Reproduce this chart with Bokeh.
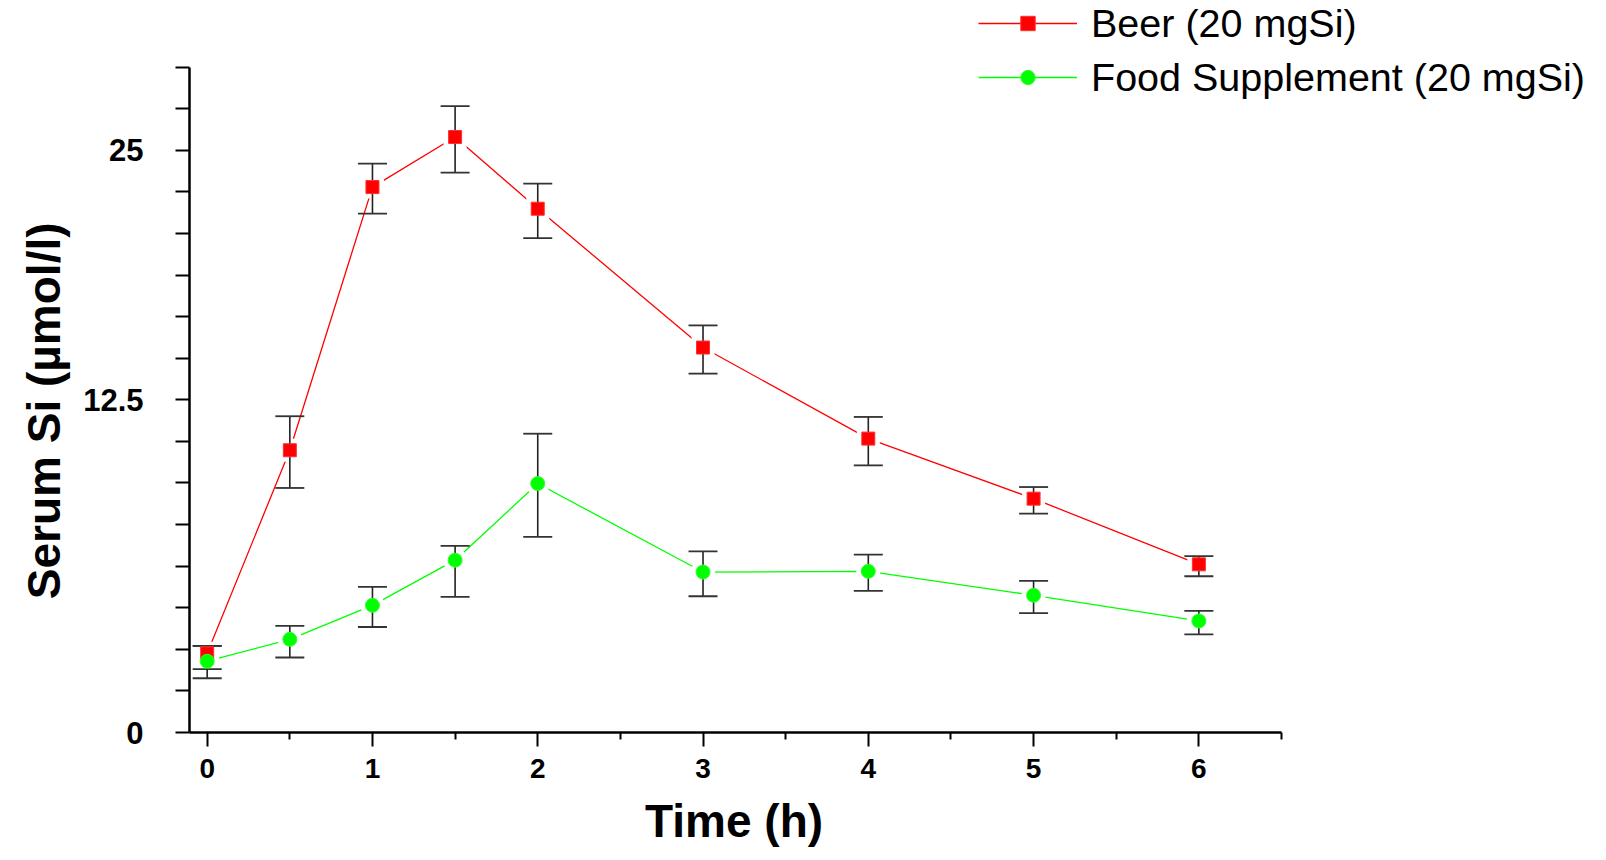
from bokeh.plotting import figure
from bokeh.models import (FixedTicker, CustomJSTickFormatter, Range1d, Title,
                          Legend, LegendItem, ColumnDataSource)
from bokeh.embed import file_html
from bokeh.resources import INLINE

# ---- data ----
time_h = [0, 0.5, 1, 1.5, 2, 3, 4, 5, 6]
beer = [3.40, 12.12, 23.42, 25.57, 22.49, 16.53, 12.62, 10.04, 7.22]
beer_upper = [3.72, 13.58, 24.43, 26.90, 23.57, 17.48, 13.55, 10.54, 7.57]
beer_lower = [2.72, 10.50, 22.28, 24.04, 21.23, 15.41, 11.47, 9.40, 6.71]
food = [3.06, 4.00, 5.46, 7.40, 10.69, 6.89, 6.92, 5.89, 4.79]
food_upper = [3.72, 4.58, 6.25, 8.01, 12.83, 7.78, 7.64, 6.51, 5.22]
food_lower = [2.33, 3.22, 4.53, 5.82, 8.40, 5.85, 6.08, 5.13, 4.21]

x_ticks = [0, 1, 2, 3, 4, 5, 6]
x_minor_ticks = [0.5, 1.5, 2.5, 3.5, 4.5, 5.5, 6.5]
x_axis_bounds = (-0.107, 6.5)
y_step = 25 / 14
y_tick_count = 17
y_label_index = [0, 8, 14]
y_label_text = ["0", "12.5", "25"]

series_names = ["Beer (20 mgSi)", "Food Supplement (20 mgSi)"]
x_title = "Time (h)"
y_title = "Serum Si (\u00b5mol/l)"

FONT = "Liberation Sans"

beer_src = ColumnDataSource(dict(t=time_h, y=beer, hi=beer_upper, lo=beer_lower))
food_src = ColumnDataSource(dict(t=time_h, y=food, hi=food_upper, lo=food_lower))

# frame spans to the right / top edges so that the legend is not clipped;
# axis bounds keep the drawn axes at the reference extent.
W, H = 1606, 860
left, bottom_px = 189, 732
px_per_h = (1281 - left) / (x_axis_bounds[1] - x_axis_bounds[0])
y_top_val = (y_tick_count - 1) * y_step
px_per_unit = (bottom_px - 66.6) / y_top_val
x_end = x_axis_bounds[0] + (W - left) / px_per_h
y_end = bottom_px / px_per_unit

p = figure(width=W, height=H,
           x_range=Range1d(x_axis_bounds[0], x_end),
           y_range=Range1d(0, y_end),
           output_backend="svg", toolbar_location=None,
           min_border_left=left, min_border_right=0,
           min_border_top=0, min_border_bottom=H - bottom_px)
p.outline_line_color = None
p.xgrid.visible = False
p.ygrid.visible = False
p.background_fill_color = "white"
p.border_fill_color = "white"

# axes
xa = p.xaxis[0]
xa.bounds = x_axis_bounds
xa.ticker = FixedTicker(ticks=x_ticks, minor_ticks=x_minor_ticks)
xa.axis_line_width = 2.5
xa.major_tick_line_width = 2
xa.minor_tick_line_width = 2
xa.major_tick_out = 14
xa.major_tick_in = 0
xa.minor_tick_out = 7
xa.minor_tick_in = 0
xa.major_label_text_font = FONT
xa.major_label_text_font_style = "bold"
xa.major_label_text_font_size = "28px"
xa.major_label_text_color = "black"
xa.major_label_standoff = 12

ya = p.yaxis[0]
ya.bounds = (0, y_top_val)
ya.ticker = FixedTicker(ticks=[k * y_step for k in range(y_tick_count)], minor_ticks=[])
ya.formatter = CustomJSTickFormatter(
    args=dict(idx=y_label_index, txt=y_label_text, step=y_step),
    code="""
    const k = Math.round(tick / step);
    const i = idx.indexOf(k);
    return i >= 0 ? txt[i] : '';
    """)
ya.axis_line_width = 2.5
ya.major_tick_line_width = 2
ya.major_tick_out = 14
ya.major_tick_in = 0
ya.minor_tick_line_color = None
ya.major_label_text_font = FONT
ya.major_label_text_font_style = "bold"
ya.major_label_text_font_size = "31px"
ya.major_label_text_color = "black"
ya.major_label_standoff = 32

# axis titles (as Titles, so they can be offset along the axis like the reference)
title_size = 46
x_title_w = 3.889 * title_size
y_title_w = 8.224 * title_size
p.add_layout(Title(text=x_title, align="left", offset=734 - left - x_title_w / 2,
                   standoff=25, text_font=FONT, text_font_style="bold",
                   text_font_size=f"{title_size}px", text_color="black"), "below")
p.add_layout(Title(text=y_title, align="left", offset=(bottom_px - 409.5) - y_title_w / 2,
                   standoff=22, text_font=FONT, text_font_style="bold",
                   text_font_size=f"{title_size}px", text_color="black"), "left")

# lines
bl = p.line("t", "y", source=beer_src, line_color="#ff0000", line_width=1.3)
fl = p.line("t", "y", source=food_src, line_color="#00ff00", line_width=1.3)

# white halos create the small gaps in the lines around markers
p.scatter("t", "y", source=beer_src, marker="square", size=23, fill_color="white", line_color=None)
p.scatter("t", "y", source=food_src, marker="circle", size=24, fill_color="white", line_color=None)

# error bars
for src in (beer_src, food_src):
    p.segment(x0="t", y0="lo", x1="t", y1="hi", source=src, line_color="#222222", line_width=1.6)
    p.scatter("t", "hi", source=src, marker="dash", size=29, line_color="#333333", line_width=1.8)
    p.scatter("t", "lo", source=src, marker="dash", size=29, line_color="#333333", line_width=1.8)

# markers
bm = p.scatter("t", "y", source=beer_src, marker="square", size=13,
               fill_color="#ff0000", line_color="#ff3030", line_width=1)
fm = p.scatter("t", "y", source=food_src, marker="circle", size=14,
               fill_color="#00ff00", line_color="#30ff30", line_width=1)

legend = Legend(items=[LegendItem(label=series_names[0], renderers=[bl, bm]),
                       LegendItem(label=series_names[1], renderers=[fl, fm])],
                location=(978 - left, bottom_px - 102), glyph_width=99, glyph_height=36,
                label_height=50, spacing=4, padding=0, margin=0,
                border_line_color=None, background_fill_alpha=0,
                label_text_font=FONT, label_text_font_size="39.5px",
                label_standoff=14, label_text_color="black")
p.add_layout(legend)

open("out.html", "w").write(file_html(p, INLINE))
